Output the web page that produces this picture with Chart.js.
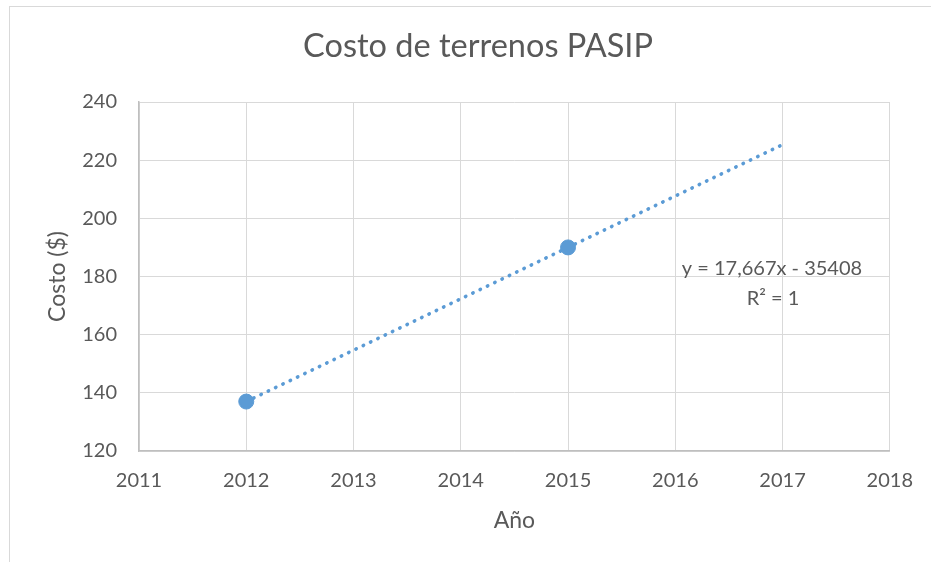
<!DOCTYPE html>
<html>
<head>
<meta charset="utf-8">
<script src="https://cdn.jsdelivr.net/npm/chart.js@4.4.1/dist/chart.umd.min.js"></script>
<style>
  html, body { margin: 0; padding: 0; background: #fff; overflow: hidden; }
  #wrap { position: relative; width: 931px; height: 562px; }
  #costChart { position: absolute; left: 0; top: 0; }
  #frame { position: absolute; left: 9px; top: 6px; width: 1000px; height: 1000px;
           border: 1px solid #d9d9d9; pointer-events: none; }
</style>
</head>
<body>
<div id="wrap">
  <canvas id="costChart" width="931" height="562"></canvas>
  <div id="frame"></div>
</div>
<script>
// data
const years = [2012, 2015];
const costs = [137, 190];
const trendYears = [2012, 2017];
const xTicks = [2011, 2012, 2013, 2014, 2015, 2016, 2017, 2018];
const yTicks = [120, 140, 160, 180, 200, 220, 240];
const chartTitle = 'Costo de terrenos PASIP';
const equationLines = ['y = 17,667x - 35408', 'R² = 1'];

// least squares fit, like the Excel trendline
const n = years.length;
const mx = years.reduce((a, b) => a + b, 0) / n;
const my = costs.reduce((a, b) => a + b, 0) / n;
let sxy = 0, sxx = 0;
years.forEach((x, i) => { sxy += (x - mx) * (costs[i] - my); sxx += (x - mx) * (x - mx); });
const slope = sxy / sxx;
const intercept = my - slope * mx;
const trendPoints = trendYears.map(x => ({ x: x, y: slope * x + intercept }));

const textColor = '#595959';
const blue = '#5B9BD5';

// title and trendline label drawn by hand, Excel puts the title off centre
const textLayer = {
    id: 'textLayer',
    afterDatasetsDraw(chart) {
        const ctx = chart.ctx;
        ctx.save();
        ctx.fillStyle = textColor;
        ctx.textAlign = 'center';
        ctx.textBaseline = 'middle';
        ctx.font = '32.5px Lato';
        ctx.fillText(chartTitle, 478, 47);
        ctx.font = '20px Lato';
        ctx.fillText(equationLines[0], 772, 269);
        ctx.fillText(equationLines[1], 773, 299);
        ctx.restore();
    }
};

const canvasBg = {
    id: 'canvasBg',
    beforeDraw(chart) {
        const ctx = chart.ctx;
        ctx.save();
        ctx.fillStyle = '#fff';
        ctx.fillRect(0, 0, chart.width, chart.height);
        ctx.restore();
    }
};

new Chart(document.getElementById('costChart').getContext('2d'), {
    type: 'scatter',
    data: {
        datasets: [
            {
                label: 'Costo',
                data: years.map((x, i) => ({ x: x, y: costs[i] })),
                backgroundColor: blue,
                borderColor: blue,
                pointRadius: 7.5,
                pointHoverRadius: 7.5,
                order: 1
            },
            {
                label: 'Tendencia',
                data: trendPoints,
                showLine: true,
                borderColor: blue,
                borderWidth: 3.5,
                borderDash: [0.5, 7.6],
                borderCapStyle: 'round',
                pointRadius: 0,
                fill: false,
                order: 2
            }
        ]
    },
    options: {
        responsive: false,
        animation: false,
        layout: { padding: { left: 0, right: 38, top: 102, bottom: 0 } },
        plugins: {
            legend: { display: false },
            tooltip: { enabled: false },
            title: { display: false }
        },
        scales: {
            x: {
                type: 'linear',
                min: 2011,
                max: 2018,
                afterBuildTicks: s => { s.ticks = xTicks.map(v => ({ value: v })); },
                afterFit: s => { s.height = 111; },
                ticks: {
                    color: textColor,
                    font: { family: 'Lato', size: 20 },
                    padding: 18,
                    maxRotation: 0,
                    callback: v => String(v)
                },
                grid: { color: '#d9d9d9', drawTicks: false },
                border: { color: '#bfbfbf', width: 1.5 },
                title: {
                    display: true,
                    text: 'Año',
                    color: textColor,
                    font: { family: 'Lato', size: 23 },
                    padding: { top: 0, bottom: 28 }
                }
            },
            y: {
                min: 120,
                max: 240,
                afterBuildTicks: s => { s.ticks = yTicks.map(v => ({ value: v })); },
                afterFit: s => { s.width = 139; },
                ticks: {
                    color: textColor,
                    font: { family: 'Lato', size: 20 },
                    padding: 22
                },
                grid: { color: '#d9d9d9', drawTicks: false },
                border: { color: '#bfbfbf', width: 1.5 },
                title: {
                    display: true,
                    text: 'Costo ($)',
                    color: textColor,
                    font: { family: 'Lato', size: 23 },
                    padding: { top: 44, bottom: 0 }
                }
            }
        }
    },
    plugins: [canvasBg, textLayer]
});
</script>
</body>
</html>
